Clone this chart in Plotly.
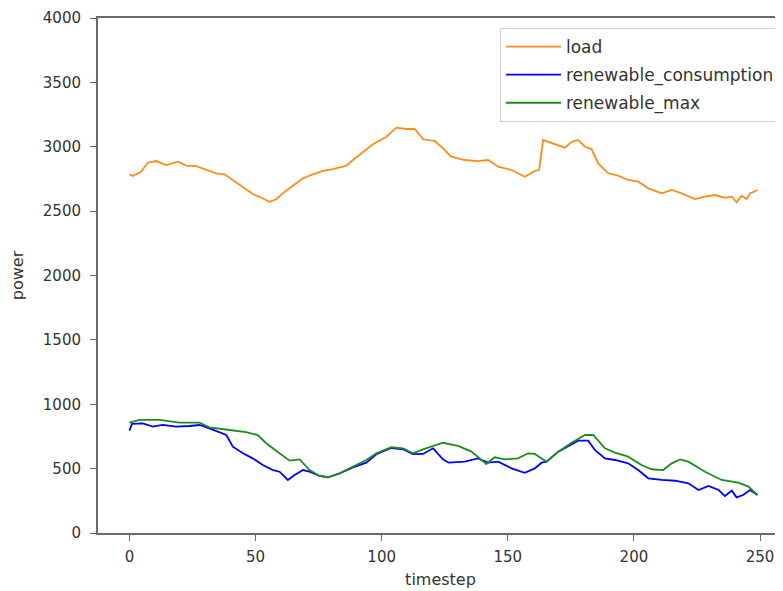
import plotly.graph_objects as go

# ---- data ----
load_t = [0, 1.3, 4.6, 7.3, 10.6, 14.6, 19.2, 22.5, 26.5, 30.4, 34.4, 37.7, 41, 45, 48.9,
          52.3, 55.6, 58.2, 60.8, 64.8, 68.8, 72.7, 76.7, 80.7, 86, 88.6, 92.6, 96.5, 101.9,
          105.8, 109.8, 113.1, 116.4, 121, 124.3, 127.6, 132.9, 138.2, 142.2, 146.2, 151.5,
          156.7, 160.7, 162.4, 164, 167.3, 172.6, 175.3, 177.9, 180.6, 183.2, 185.8, 189.8,
          193.8, 197.7, 201.7, 205.7, 211, 215, 218.9, 224.2, 228.2, 232.1, 236.1, 238.8,
          240.7, 242.7, 244.7, 246, 249]
load_v = [2786, 2773, 2806, 2876, 2889, 2858, 2884, 2853, 2850, 2825, 2794, 2786, 2742, 2690,
          2633, 2604, 2573, 2592, 2638, 2697, 2755, 2786, 2812, 2827, 2853, 2897, 2957, 3019,
          3078, 3148, 3138, 3138, 3058, 3045, 2988, 2923, 2897, 2889, 2897, 2845, 2819, 2767,
          2812, 2819, 3052, 3027, 2993, 3039, 3052, 3000, 2982, 2871, 2794, 2775, 2742, 2729,
          2677, 2638, 2664, 2638, 2594, 2612, 2625, 2604, 2612, 2568, 2620, 2594, 2638, 2664]

cons_t = [0, 1, 5.3, 9.3, 13.2, 18.5, 23.8, 27.8, 31.7, 35.7, 38.4, 41, 45, 48.9, 52.9, 56.9,
          59.5, 62.8, 65.5, 68.8, 71.4, 75.4, 78.7, 83.3, 88.6, 93.9, 97.9, 103.8, 108.5,
          112.4, 116.4, 120.4, 124.3, 126.6, 132.9, 138.2, 142.2, 146.2, 151.5, 156.7, 160.7,
          163.4, 165.4, 170, 175.3, 177.9, 181.9, 184.5, 188.5, 192.5, 197.7, 201.7, 205.7,
          211, 216.3, 221.6, 225.6, 229.6, 233.6, 236.1, 238.8, 240.7, 243.3, 246, 249]
cons_v = [795, 847, 852, 826, 839, 826, 831, 839, 813, 779, 761, 670, 619, 580, 528, 489,
          476, 412, 450, 489, 476, 443, 433, 462, 510, 546, 612, 660, 650, 612, 614, 658,
          572, 546, 554, 580, 546, 554, 502, 468, 502, 546, 554, 632, 693, 717, 717, 645,
          580, 567, 541, 489, 425, 412, 406, 386, 334, 365, 334, 287, 329, 277, 295, 334, 295]

max_t = [0, 4, 11.9, 19.8, 27.8, 31.7, 39.7, 46.3, 50.9, 54.2, 59.5, 63.5, 67.5, 71.4, 75.4,
         78.7, 83.3, 88.6, 93.9, 97.9, 103.8, 108.5, 112.4, 116.4, 120.4, 124.3, 130.3,
         135.6, 141.5, 144.8, 148.8, 154.1, 158.1, 160.7, 165.4, 170, 175.3, 180.6, 183.9,
         188.5, 192.5, 197.7, 203, 207, 211.6, 215, 218.3, 221.6, 228.2, 234.8, 241.4,
         245.4, 249]
max_v = [857, 878, 878, 857, 857, 821, 800, 784, 761, 697, 619, 562, 572, 489, 443, 433,
         464, 515, 567, 619, 666, 658, 619, 650, 676, 701, 676, 632, 536, 588, 572, 580,
         619, 614, 554, 632, 701, 761, 761, 658, 624, 593, 528, 495, 489, 541, 572, 554,
         476, 412, 391, 360, 295]

x_ticks = [0, 50, 100, 150, 200, 250]
y_ticks = [0, 500, 1000, 1500, 2000, 2500, 3000, 3500, 4000]

fig = go.Figure()
fig.add_trace(go.Scatter(x=load_t, y=load_v, mode="lines", name="load",
                         line=dict(color="#ff8c1a", width=1.8), legendgroup="a"))
fig.add_trace(go.Scatter(x=cons_t, y=cons_v, mode="lines", name="renewable_consumption",
                         line=dict(color="#0000ff", width=1.8), legendgroup="b"))
fig.add_trace(go.Scatter(x=max_t, y=max_v, mode="lines", name="renewable_max",
                         line=dict(color="#1e8c1e", width=1.8), legendgroup="c"))

font = "DejaVu Sans"
# the page body adds an 8px offset, so the figure is sized 8px smaller
fig.update_layout(
    width=775, height=583,
    margin=dict(l=90, r=0, t=10, b=58),
    paper_bgcolor="white", plot_bgcolor="white",
    font=dict(family=font, size=15, color="#333"),
    showlegend=True,
    legend=dict(x=0.9956, xanchor="right", y=0.9806, yanchor="top",
                bordercolor="#d0d0d0", borderwidth=1, bgcolor="rgba(255,255,255,0.9)",
                font=dict(family=font, size=17, color="#333"),
                tracegroupgap=3, itemwidth=55),
    xaxis=dict(range=[-12.45, 259.1], tickvals=x_ticks, ticktext=[str(v) for v in x_ticks],
               showgrid=False, zeroline=False, showline=True, linecolor="#6a6a6a", linewidth=2,
               mirror=True, ticks="outside", ticklen=6, tickcolor="#6a6a6a",
               ticklabelstandoff=3,
               title=dict(text="timestep", standoff=9, font=dict(size=16))),
    yaxis=dict(range=[0, 4000], tickvals=y_ticks, ticktext=[str(v) for v in y_ticks],
               showgrid=False, zeroline=False, showline=True, linecolor="#6a6a6a", linewidth=2,
               mirror=False, ticks="outside", ticklen=6, tickcolor="#6a6a6a",
               ticklabelstandoff=6,
               title=dict(text="power", standoff=18, font=dict(size=16))),
)

fig.write_html("out.html")
